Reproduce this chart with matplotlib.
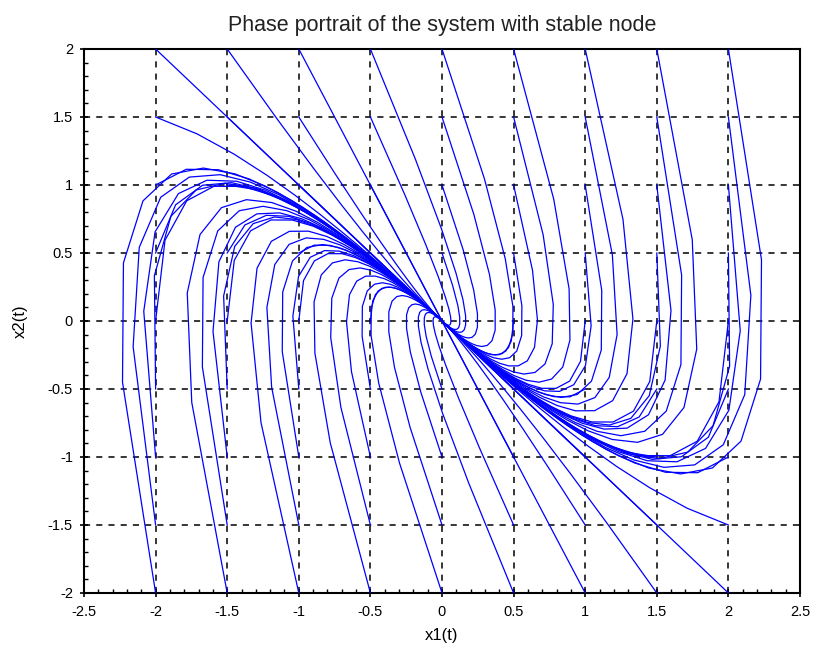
"""Phase portrait of a linear system with a stable node (Scilab-style look)."""

import numpy as np
import matplotlib
matplotlib.use('Agg')
from matplotlib import pyplot as plt
from matplotlib.ticker import MultipleLocator

plt.rcParams['font.family'] = ['Liberation Sans', 'DejaVu Sans']

# system x' = A x, eigenvalues -1 and -2 (stable node)
A = [[0.0, 1.0],
     [-2.0, -3.0]]

# initial conditions: every point of the grid
X1_STARTS = [-2.0, -1.5, -1.0, -0.5, 0.0, 0.5, 1.0, 1.5, 2.0]
X2_STARTS = [-2.0, -1.5, -1.0, -0.5, 0.0, 0.5, 1.0, 1.5, 2.0]

# sampling of the solution (coarse, as in the original ode output)
T_STEP = 0.2
T_END = 10.0

X_TICKS = [-2.5, -2, -1.5, -1, -0.5, 0, 0.5, 1, 1.5, 2, 2.5]
Y_TICKS = [-2, -1.5, -1, -0.5, 0, 0.5, 1, 1.5, 2]


def trajectory(x0, t):
    lam, vec = np.linalg.eig(np.array(A))
    coeffs = np.linalg.solve(vec, np.asarray(x0))
    modes = np.exp(np.outer(t, lam)) * coeffs
    return (modes @ vec.T).real


t = np.arange(0.0, T_END + T_STEP / 2, T_STEP)

fig = plt.figure(figsize=(8.18, 6.55), dpi=100)
ax = fig.add_axes((84 / 818, 1 - 593 / 655, 716 / 818, 544 / 655))

for x1 in X1_STARTS:
    for x2 in X2_STARTS:
        path = trajectory((x1, x2), t)
        ax.plot(path[:, 0], path[:, 1], color='#0000ff', linewidth=0.9, zorder=3)

ax.set_xlim(-2.5, 2.5)
ax.set_ylim(-2, 2)
ax.set_xticks(X_TICKS)
ax.set_yticks(Y_TICKS)
ax.set_xticklabels([f'{v:g}' for v in X_TICKS])
ax.set_yticklabels([f'{v:g}' for v in Y_TICKS])
ax.xaxis.set_minor_locator(MultipleLocator(0.1))
ax.yaxis.set_minor_locator(MultipleLocator(0.1))

ax.grid(True, which='major', color='black', linestyle=(0, (4, 4)), linewidth=1.1, zorder=1)
ax.tick_params(which='major', direction='inout', length=6, width=1.2, labelsize=10.5,
               top=False, right=False)
ax.tick_params(axis='x', which='major', pad=6)
ax.tick_params(axis='y', which='major', pad=5)
ax.tick_params(which='minor', direction='in', length=3, width=1, top=False, right=False)
for spine in ax.spines.values():
    spine.set_linewidth(1.5)

ax.set_title('Phase portrait of the system with stable node', fontsize=15.5, color='#222222', pad=13)
ax.set_xlabel('x1(t)', fontsize=12, labelpad=6)
ax.set_ylabel('x2(t)', fontsize=12, labelpad=14)

fig.savefig('out.png', dpi=100)
plt.close(fig)
